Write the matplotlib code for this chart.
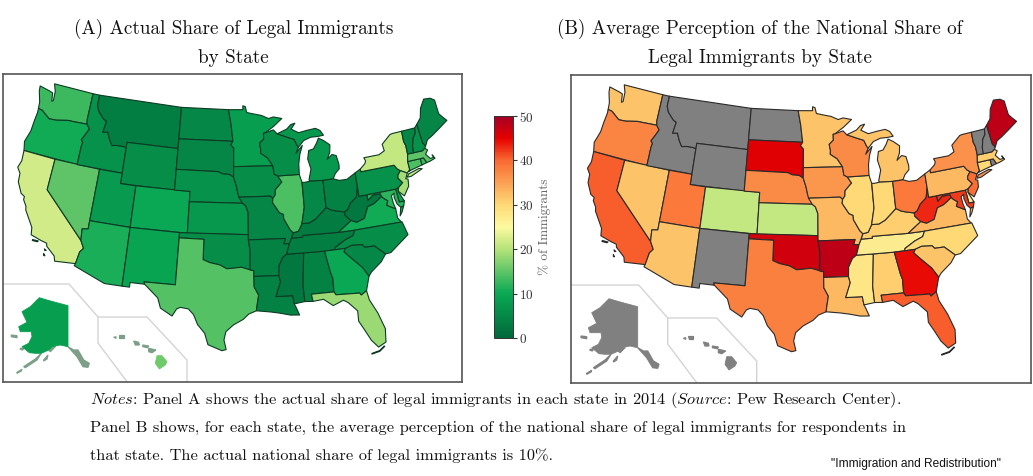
"""Two US choropleths: actual vs perceived share of legal immigrants by state."""

import math

import matplotlib

matplotlib.use("Agg")
import matplotlib.pyplot as plt
import numpy as np
from matplotlib.colors import LinearSegmentedColormap, Normalize
from matplotlib.patches import Polygon

plt.rcParams["font.family"] = ["cmr10"]
plt.rcParams["mathtext.fontset"] = "cm"
plt.rcParams["axes.formatter.use_mathtext"] = True

STATE_CODES = [
    "AL", "AK", "AZ", "AR", "CA", "CO", "CT", "DE", "FL", "GA",
    "HI", "ID", "IL", "IN", "IA", "KS", "KY", "LA", "ME", "MD",
    "MA", "MI", "MN", "MS", "MO", "MT", "NE", "NV", "NH", "NJ",
    "NM", "NY", "NC", "ND", "OH", "OK", "OR", "PA", "RI", "SC",
    "SD", "TN", "TX", "UT", "VT", "VA", "WA", "WV", "WI", "WY",
]
ACTUAL_SHARE = [
    4, 8.5, 11, 4, 22, 10, 14, 9, 18.5, 10,
    16, 6.5, 14, 5, 6, 7.5, 3, 4, 4.5, 12,
    15, 7.5, 8.5, 2.5, 4.5, 3.5, 6.5, 15, 6.5, 19,
    9.5, 21, 6, 5, 4, 6, 10.5, 6.5, 13, 5,
    4.5, 3.5, 14.3, 8, 4.5, 10.5, 13, 2.5, 6, 6,
]
nan = float("nan")
PERCEIVED_SHARE = [
    31, nan, 32, 48, 40.5, 21, 30, 27, 40.5, 44.5,
    nan, nan, 30, 30, 36, 21, 31, 33, 48, 42,
    31, 32, 32, 28, 33, nan, 37, 32, nan, 39.5,
    nan, 36.5, 30, nan, 38.5, 46.5, 37.5, 33, nan, 32,
    45.5, 27, 38, 38.5, nan, 33, 32, 43, 37, nan,
]
COLORBAR_TICKS = [0, 10, 20, 30, 40, 50]

# colormap
CMAP_STOPS = [0, 10, 20, 25, 30, 40, 45, 50]
CMAP_COLORS = ["#00693a", "#0aa854", "#b5e27a", "#fdfaa0",
               "#fed976", "#f96a32", "#e60000", "#a50026"]

# state outlines as (lon, lat)
SHAPES = {
    "WA": [[(-124.7, 48.4), (-123.2, 48.2), (-122.7, 48.1), (-122.5, 47.3), (-122.3, 47.4), (-122.4, 48.3), (-122.8, 49), (-117.03, 49), (-117.04, 46.42), (-116.92, 45.99), (-119, 45.93), (-119.6, 45.92), (-121.2, 45.65), (-122.2, 45.6), (-122.8, 45.9), (-123.4, 46.2), (-124, 46.27), (-124.1, 46.9), (-124.6, 47.9)]],
    "OR": [[(-124, 46.27), (-123.4, 46.2), (-122.8, 45.9), (-122.2, 45.6), (-121.2, 45.65), (-119.6, 45.92), (-119, 45.93), (-116.92, 45.99), (-116.46, 45.6), (-116.85, 44.95), (-117.22, 44.4), (-116.95, 44.2), (-117.03, 43.8), (-117.03, 42), (-124.21, 42), (-124.5, 42.85), (-124.1, 44), (-124.05, 45), (-123.95, 45.9)]],
    "CA": [[(-124.21, 42), (-120, 42), (-120, 39), (-114.63, 35), (-114.14, 34.3), (-114.5, 33.9), (-114.72, 32.72), (-117.12, 32.53), (-117.3, 33), (-118.4, 33.75), (-118.5, 34.03), (-119.2, 34.15), (-120.5, 34.45), (-120.65, 35.15), (-121.9, 36.6), (-122, 36.95), (-122.5, 37.5), (-122.5, 37.8), (-123, 38), (-123.75, 39), (-123.85, 39.8), (-124.35, 40.3), (-124.1, 41)],
           [(-120.2, 34.05), (-119.5, 34.05), (-119.6, 33.95), (-120.2, 33.95)],
           [(-118.6, 33.45), (-118.35, 33.35), (-118.5, 33.3)],
           [(-118.55, 33.0), (-118.35, 32.82), (-118.5, 32.82)]],
    "NV": [[(-120, 42), (-114.04, 42), (-114.04, 36.2), (-114.75, 36.1), (-114.63, 35), (-120, 39)]],
    "ID": [[(-117.03, 49), (-116.05, 49), (-116.05, 48), (-115.7, 47.45), (-114.8, 46.8), (-114.35, 46.65), (-114.55, 45.55), (-113.9, 45.65), (-113.45, 44.95), (-113, 44.45), (-112.3, 44.55), (-111.5, 44.55), (-111.05, 44.48), (-111.05, 42), (-117.03, 42), (-117.03, 43.8), (-116.95, 44.2), (-117.22, 44.4), (-116.85, 44.95), (-116.46, 45.6), (-116.92, 45.99), (-117.04, 46.42)]],
    "MT": [[(-116.05, 49), (-104.05, 49), (-104.05, 45), (-111.05, 45), (-111.05, 44.48), (-111.5, 44.55), (-112.3, 44.55), (-113, 44.45), (-113.45, 44.95), (-113.9, 45.65), (-114.55, 45.55), (-114.35, 46.65), (-114.8, 46.8), (-115.7, 47.45), (-116.05, 48)]],
    "WY": [[(-111.05, 45), (-104.05, 45), (-104.05, 41), (-111.05, 41)]],
    "UT": [[(-114.04, 42), (-111.05, 42), (-111.05, 41), (-109.05, 41), (-109.05, 37), (-114.04, 37)]],
    "CO": [[(-109.05, 41), (-102.05, 41), (-102.05, 37), (-109.05, 37)]],
    "AZ": [[(-114.04, 37), (-109.05, 37), (-109.05, 31.33), (-111.07, 31.33), (-114.81, 32.5), (-114.72, 32.72), (-114.5, 33.9), (-114.14, 34.3), (-114.63, 35), (-114.75, 36.1), (-114.04, 36.2)]],
    "NM": [[(-109.05, 37), (-103, 37), (-103.04, 32), (-106.62, 32), (-106.53, 31.78), (-108.2, 31.78), (-108.2, 31.33), (-109.05, 31.33)]],
    "ND": [[(-104.05, 49), (-97.23, 49), (-96.85, 47.6), (-96.56, 45.94), (-104.05, 45.94)]],
    "SD": [[(-104.05, 45.94), (-96.56, 45.94), (-96.85, 45.6), (-96.45, 45.3), (-96.45, 43.5), (-96.45, 42.49), (-97, 42.75), (-97.9, 42.8), (-98.5, 43), (-104.05, 43)]],
    "NE": [[(-104.05, 43), (-98.5, 43), (-97.9, 42.8), (-97, 42.75), (-96.45, 42.49), (-96.1, 41.7), (-95.9, 41), (-95.3, 40), (-102.05, 40), (-102.05, 41), (-104.05, 41)]],
    "KS": [[(-102.05, 40), (-95.3, 40), (-94.9, 39.75), (-94.6, 39.1), (-94.62, 37), (-102.05, 37)]],
    "OK": [[(-103, 37), (-94.62, 37), (-94.62, 36.5), (-94.43, 35.4), (-94.48, 33.64), (-95.5, 33.9), (-96.5, 33.8), (-97.2, 33.75), (-98, 34.1), (-99.2, 34.3), (-100, 34.56), (-100, 36.5), (-103, 36.5)]],
    "TX": [[(-103, 36.5), (-100, 36.5), (-100, 34.56), (-99.2, 34.3), (-98, 34.1), (-97.2, 33.75), (-96.5, 33.8), (-95.5, 33.9), (-94.48, 33.64), (-94.04, 33.55), (-94.04, 33), (-94.04, 32), (-93.55, 31.2), (-93.7, 30.5), (-93.85, 29.7), (-94.7, 29.4), (-95.3, 28.9), (-96.4, 28.35), (-97.2, 27.7), (-97.4, 26.9), (-97.15, 25.96), (-97.6, 25.85), (-99.1, 26.4), (-99.5, 27.5), (-100.3, 28.3), (-100.8, 29.25), (-101.4, 29.77), (-102.3, 29.87), (-102.7, 29.7), (-103.15, 28.98), (-104.5, 29.65), (-104.9, 30.6), (-106.53, 31.78), (-106.62, 32), (-103.04, 32)]],
    "MN": [[(-97.23, 49), (-95.15, 49), (-95.15, 49.38), (-94.8, 49.3), (-94.6, 48.72), (-93.5, 48.55), (-92.5, 48.4), (-91.5, 48.07), (-90.8, 48.2), (-89.6, 48), (-90.8, 47.3), (-92.05, 46.7), (-92.3, 46.66), (-92.3, 46.1), (-92.9, 45.7), (-92.75, 45.1), (-92.8, 44.75), (-91.9, 44.3), (-91.22, 43.5), (-96.45, 43.5), (-96.45, 45.3), (-96.85, 45.6), (-96.56, 45.94), (-96.85, 47.6)]],
    "IA": [[(-96.45, 43.5), (-91.22, 43.5), (-91.1, 42.7), (-90.65, 42.5), (-90.15, 41.9), (-91.05, 41.2), (-91.1, 40.7), (-91.42, 40.38), (-91.73, 40.61), (-95.77, 40.58), (-95.9, 41), (-96.1, 41.7), (-96.45, 42.49)]],
    "MO": [[(-95.77, 40.58), (-91.73, 40.61), (-91.42, 40.38), (-91.5, 40), (-90.7, 39), (-90.2, 38.8), (-90.2, 38.4), (-89.5, 37.3), (-89.15, 37), (-89.4, 36.5), (-89.7, 36), (-90.37, 36), (-90.15, 36.5), (-94.62, 36.5), (-94.62, 37), (-94.6, 39.1), (-94.9, 39.75), (-95.3, 40)]],
    "AR": [[(-94.62, 36.5), (-90.15, 36.5), (-90.37, 36), (-89.7, 36), (-90.1, 35), (-90.6, 34.7), (-91.1, 33.9), (-91.17, 33), (-94.04, 33), (-94.04, 33.55), (-94.48, 33.64), (-94.43, 35.4)]],
    "LA": [[(-94.04, 33), (-91.17, 33), (-91, 32.4), (-91.6, 31), (-89.73, 31), (-89.6, 30.2), (-89.4, 29.8), (-89.1, 29.1), (-90.1, 29.15), (-91.3, 29.4), (-92.3, 29.55), (-93.85, 29.7), (-93.7, 30.5), (-93.55, 31.2), (-94.04, 32)]],
    "MS": [[(-91.17, 33), (-91.1, 33.9), (-90.6, 34.7), (-90.1, 35), (-88.2, 35), (-88.1, 34.9), (-88.47, 31.9), (-88.4, 30.35), (-89.6, 30.2), (-89.73, 31), (-91.6, 31), (-91, 32.4)]],
    "AL": [[(-88.2, 35), (-85.6, 34.98), (-85.18, 32.87), (-85, 32.3), (-85.05, 31), (-87.6, 31), (-87.5, 30.3), (-88.4, 30.35), (-88.47, 31.9), (-88.1, 34.9)]],
    "TN": [[(-90.1, 35), (-89.7, 36), (-89.4, 36.5), (-88.05, 36.5), (-88.05, 36.68), (-83.68, 36.6), (-81.68, 36.59), (-82, 36.1), (-83, 35.8), (-84.3, 35.2), (-84.32, 34.99), (-85.6, 34.98), (-88.2, 35)]],
    "KY": [[(-89.4, 36.5), (-89.15, 37), (-88.5, 37.1), (-88, 37.8), (-87.1, 37.8), (-86.3, 38.1), (-85.4, 38.7), (-84.8, 39.1), (-84.2, 38.8), (-83.6, 38.65), (-82.6, 38.45), (-82.6, 38.15), (-81.97, 37.54), (-83.68, 36.6), (-88.05, 36.68), (-88.05, 36.5)]],
    "IL": [[(-91.42, 40.38), (-91.1, 40.7), (-91.05, 41.2), (-90.15, 41.9), (-90.65, 42.5), (-87.8, 42.5), (-87.55, 41.75), (-87.53, 39.35), (-88, 37.8), (-88.5, 37.1), (-89.15, 37), (-89.5, 37.3), (-90.2, 38.4), (-90.2, 38.8), (-90.7, 39), (-91.5, 40)]],
    "WI": [[(-92.05, 46.7), (-90.9, 46.95), (-90.4, 46.55), (-89, 46.15), (-88.1, 45.9), (-87.8, 45.35), (-87.6, 45.1), (-88, 44.55), (-87.05, 45.25), (-87.5, 44.4), (-87.75, 43.5), (-87.8, 42.5), (-90.65, 42.5), (-91.1, 42.7), (-91.22, 43.5), (-91.9, 44.3), (-92.8, 44.75), (-92.75, 45.1), (-92.9, 45.7), (-92.3, 46.1), (-92.3, 46.66)]],
    "MI": [[(-86.5, 41.76), (-84.8, 41.7), (-83.45, 41.73), (-83.1, 42.2), (-82.5, 42.6), (-82.45, 43), (-82.65, 43.9), (-83.2, 44.05), (-83.9, 43.65), (-83.45, 44.3), (-83.3, 45), (-84.1, 45.5), (-84.75, 45.78), (-85.1, 45.3), (-85.6, 44.8), (-86.25, 44.7), (-86.5, 43.9), (-86.2, 42.9), (-86.6, 41.9)],
           [(-90.4, 46.55), (-89, 46.95), (-88.4, 47.35), (-87.8, 47.45), (-88.4, 46.9), (-87.4, 46.5), (-86.2, 46.65), (-85, 46.75), (-84.4, 46.5), (-84, 46), (-84.75, 45.95), (-85.8, 45.95), (-86.8, 45.7), (-87.6, 45.1), (-87.8, 45.35), (-88.1, 45.9), (-89, 46.15)]],
    "IN": [[(-87.53, 41.72), (-87.2, 41.7), (-86.5, 41.76), (-84.8, 41.7), (-84.82, 39.1), (-85.4, 38.7), (-86.3, 38.1), (-87.1, 37.8), (-88, 37.8), (-87.53, 39.35)]],
    "OH": [[(-84.8, 41.7), (-83.45, 41.73), (-82.7, 41.5), (-81.7, 41.5), (-80.52, 41.98), (-80.52, 40.64), (-80.85, 39.7), (-81.7, 39.2), (-82.2, 38.6), (-82.6, 38.45), (-83.6, 38.65), (-84.2, 38.8), (-84.82, 39.1)]],
    "WV": [[(-80.52, 40.64), (-80.52, 39.72), (-79.48, 39.72), (-79.48, 39.2), (-78.8, 39.6), (-78.4, 39.6), (-77.83, 39.6), (-77.72, 39.32), (-78.35, 39), (-78.87, 38.76), (-79.65, 38.6), (-80.3, 37.55), (-81.3, 37.3), (-81.97, 37.54), (-82.6, 38.15), (-82.6, 38.45), (-82.2, 38.6), (-81.7, 39.2), (-80.85, 39.7)]],
    "VA": [[(-83.68, 36.6), (-81.97, 37.54), (-81.3, 37.3), (-80.3, 37.55), (-79.65, 38.6), (-78.87, 38.76), (-78.35, 39), (-77.72, 39.32), (-77.5, 39.1), (-77.05, 38.8), (-77.3, 38.4), (-76.3, 37.9), (-76.3, 37), (-75.95, 36.55), (-81.68, 36.59)],
           [(-75.95, 37.15), (-75.65, 37.95), (-75.25, 38.03), (-75.6, 37.5)]],
    "NC": [[(-84.32, 34.99), (-84.3, 35.2), (-83, 35.8), (-82, 36.1), (-81.68, 36.59), (-75.87, 36.55), (-75.5, 35.25), (-76.5, 34.7), (-77.9, 33.9), (-78.55, 33.86), (-79.67, 34.8), (-80.8, 34.82), (-81.05, 35.1), (-82.3, 35.2), (-83.1, 35)]],
    "SC": [[(-83.1, 35), (-82.3, 35.2), (-81.05, 35.1), (-80.8, 34.82), (-79.67, 34.8), (-78.55, 33.86), (-79.2, 33.2), (-80.5, 32.4), (-80.87, 32.03), (-81.5, 33), (-82.6, 34), (-83.35, 34.7)]],
    "GA": [[(-85.6, 34.98), (-84.32, 34.99), (-83.1, 35), (-83.35, 34.7), (-82.6, 34), (-81.5, 33), (-80.87, 32.03), (-81.4, 30.7), (-82.05, 30.36), (-82.2, 30.57), (-84.86, 30.7), (-85.05, 31), (-85, 32.3), (-85.18, 32.87)]],
    "FL": [[(-87.6, 31), (-85.05, 31), (-84.86, 30.7), (-82.2, 30.57), (-82.05, 30.36), (-81.4, 30.7), (-81.25, 29.8), (-80.55, 28.4), (-80.03, 26.8), (-80.2, 25.5), (-81.05, 25.13), (-81.7, 25.9), (-82.2, 26.9), (-82.75, 27.9), (-82.7, 28.9), (-83.6, 29.8), (-84.1, 30.1), (-85.3, 29.7), (-86.3, 30.4), (-87.5, 30.3)],
           [(-81.85, 24.55), (-81.0, 24.7), (-80.4, 25.1), (-80.45, 25.15), (-81.0, 24.78), (-81.85, 24.62)]],
    "PA": [[(-80.52, 41.98), (-79.76, 42.27), (-79.76, 42), (-75.35, 42), (-75.05, 41.6), (-74.7, 41.36), (-75.13, 40.98), (-75.2, 40.7), (-74.75, 40.2), (-75.42, 39.8), (-75.79, 39.72), (-80.52, 39.72), (-80.52, 40.64)]],
    "NY": [[(-79.76, 42.27), (-79.05, 42.7), (-78.9, 42.95), (-79.05, 43.27), (-77, 43.28), (-76.2, 43.55), (-76.3, 44.2), (-75, 44.95), (-74.7, 45), (-73.34, 45.01), (-73.4, 44), (-73.25, 43.6), (-73.28, 42.75), (-73.5, 42.05), (-73.49, 41.21), (-73.73, 41.1), (-73.9, 40.99), (-74.7, 41.36), (-75.05, 41.6), (-75.35, 42), (-79.76, 42)],
           [(-74.03, 40.6), (-73.75, 40.88), (-72.3, 41.15), (-71.9, 41.05), (-73.5, 40.6)]],
    "NJ": [[(-74.7, 41.36), (-73.9, 40.99), (-74.25, 40.5), (-73.98, 40.4), (-74.1, 39.75), (-74.9, 38.93), (-75.55, 39.5), (-75.42, 39.8), (-74.75, 40.2), (-75.2, 40.7), (-75.13, 40.98)]],
    "DE": [[(-75.79, 39.72), (-75.42, 39.8), (-75.55, 39.5), (-75.05, 38.45), (-75.7, 38.46)]],
    "MD": [[(-79.48, 39.72), (-75.79, 39.72), (-75.7, 38.46), (-75.05, 38.45), (-75.25, 38.03), (-75.65, 37.95), (-76, 38.3), (-76.2, 39), (-76.1, 39.4), (-76.5, 39.2), (-76.45, 38.5), (-76.3, 37.9), (-77.3, 38.4), (-77.05, 38.8), (-77.5, 39.1), (-77.72, 39.32), (-77.83, 39.6), (-78.4, 39.6), (-78.8, 39.6), (-79.48, 39.2)]],
    "CT": [[(-73.73, 41.1), (-73.49, 41.21), (-73.5, 42.05), (-71.8, 42.02), (-71.8, 41.4), (-73, 41.23)]],
    "RI": [[(-71.8, 42.02), (-71.38, 42.02), (-71.12, 41.5), (-71.8, 41.4)]],
    "MA": [[(-73.5, 42.05), (-73.28, 42.75), (-72.46, 42.73), (-71.3, 42.7), (-70.9, 42.88), (-70.6, 42.65), (-71, 42.3), (-70.55, 41.8), (-70.05, 41.8), (-70.2, 42.08), (-69.95, 41.7), (-70.65, 41.55), (-71.12, 41.5), (-71.38, 42.02), (-71.8, 42.02)]],
    "VT": [[(-73.34, 45.01), (-71.5, 45.01), (-71.6, 44.5), (-72.05, 44.1), (-72.4, 43.3), (-72.46, 42.73), (-73.28, 42.75), (-73.25, 43.6), (-73.4, 44)]],
    "NH": [[(-71.5, 45.01), (-71.08, 45.3), (-70.98, 43.4), (-70.7, 43.07), (-70.9, 42.88), (-71.3, 42.7), (-72.46, 42.73), (-72.4, 43.3), (-72.05, 44.1), (-71.6, 44.5)]],
    "ME": [[(-71.08, 45.3), (-70.4, 45.8), (-70, 46.7), (-69.23, 47.46), (-68.3, 47.36), (-67.8, 47.07), (-67.8, 45.7), (-67.45, 45.3), (-67, 44.85), (-68.5, 44.25), (-69.5, 43.85), (-70.25, 43.6), (-70.7, 43.07), (-70.98, 43.4)]],
}
# insets traced straight in map pixels
ALASKA = [(39.3, 297.7), (47, 300), (55.3, 302.3), (68, 305.7), (68, 346.7), (60.3, 345), (52, 346.7), (48.7, 350), (41.3, 353.3), (35.3, 353.3), (29.3, 352.7), (22, 346.7), (28.7, 343.3), (32, 336.7), (31.3, 331.7), (20.3, 331.7), (18.7, 326.7), (27, 322.3), (22, 311.7), (30.3, 306.7)]
ALASKA_FRINGE = [
    [(68, 346.7), (73.7, 350), (78, 350), (83.7, 360), (89.3, 363.3), (88, 367.3), (83, 366.7), (77, 356.7)],
    [(41.3, 353.3), (37, 360), (25.3, 367.7), (23.7, 366.7), (35.3, 359)],
    [(17, 372.3), (22, 369.3), (21.3, 371), (17, 373.3)],
    [(43.7, 360), (48, 355), (47, 359), (43.7, 361)],
    [(48.7, 350), (53.7, 345), (55.3, 346.7), (50.3, 351.7)],
    [(11.3, 335), (17, 335.7), (17, 337.7), (11.3, 336.7)],
    [(20.3, 348.3), (23.7, 348.3), (22.7, 350), (20.3, 349.3)],
]
HAWAII_BIG = [(157, 355.7), (162, 355.7), (167, 361.7), (165.3, 365), (159.3, 369), (155.3, 363.3)]
HAWAII_SMALL = [
    [(148.7, 348.3), (156, 350), (152, 352.7), (148.7, 351.7)],
    [(142.7, 345), (148.7, 346), (147.7, 347.7), (142.7, 346.7)],
    [(133.7, 341), (138.7, 342.3), (139.3, 345), (135.3, 345)],
    [(118.7, 335), (123.7, 335), (123.7, 338.3), (119.3, 338.3)],
    [(113.7, 337.3), (116, 336.7), (116, 338.3)],
]
# inset separator polylines, in map pixels
INSET_LINES = [
    [(0, 284), (69, 284), (98, 317), (147, 317), (187, 360), (187, 383)],
    [(98, 317), (98, 343), (128, 383)],
]

MAP_SCALE = 595.0
MAP_X0, MAP_Y0 = 237.0, 229.5
FRAME_A = (2.7, 461.7, 74.0, 382.0)
FRAME_B = (571.0, 1030.5, 74.5, 383.0)
SHIFT_B = (569.7, 1.0)
FIG_W, FIG_H = 1033, 476

NOTE_LINES = [
    r"$\mathit{Notes}$: Panel A shows the actual share of legal immigrants in each state in 2014 ($\mathit{Source}$: Pew Research Center).",
    "Panel B shows, for each state, the average perception of the national share of legal immigrants for respondents in",
    "that state. The actual national share of legal immigrants is 10%.",
]


def _albers(lon, lat, lon0=-96.0, lat0=37.5, lat1=29.5, lat2=45.5):
    """Albers equal-area conic, returned in unit-sphere coordinates."""
    s1, s2 = math.sin(math.radians(lat1)), math.sin(math.radians(lat2))
    n = (s1 + s2) / 2
    c = math.cos(math.radians(lat1)) ** 2 + 2 * n * s1
    rho = math.sqrt(c - 2 * n * math.sin(math.radians(lat))) / n
    rho0 = math.sqrt(c - 2 * n * math.sin(math.radians(lat0))) / n
    theta = math.radians(n * (lon - lon0))
    return rho * math.sin(theta), rho0 - rho * math.cos(theta)


def _lower48(points):
    out = []
    for lon, lat in points:
        x, y = _albers(lon, lat)
        out.append((MAP_X0 + MAP_SCALE * x, MAP_Y0 - MAP_SCALE * y))
    return out


def _draw_panel(ax, values, cmap, norm, edge, fringe_color):
    lookup = dict(zip(STATE_CODES, values))

    def face(code):
        val = lookup[code]
        return "#808080" if np.isnan(val) else cmap(norm(val))

    for code, parts in SHAPES.items():
        for part in parts:
            ax.add_patch(Polygon(_lower48(part), closed=True, facecolor=face(code),
                                 edgecolor=edge, linewidth=0.8, joinstyle="round"))
    # insets have no dark outline, only a thin edge in their own fill
    for part in ALASKA_FRINGE + HAWAII_SMALL:
        ax.add_patch(Polygon(part, closed=True, facecolor=fringe_color,
                             edgecolor=fringe_color, linewidth=0.9))
    ax.add_patch(Polygon(ALASKA, closed=True, facecolor=face("AK"), edgecolor=face("AK"), linewidth=0.6))
    ax.add_patch(Polygon(HAWAII_BIG, closed=True, facecolor=face("HI"), edgecolor=face("HI"), linewidth=0.6))
    for line in INSET_LINES:
        xs, ys = zip(*line)
        ax.plot(xs, ys, color="#d4d4d4", linewidth=1.0, zorder=0)


def _add_axes(fig, frame):
    left, right, top, bottom = frame
    ax = fig.add_axes([left / FIG_W, 1 - bottom / FIG_H,
                       (right - left) / FIG_W, (bottom - top) / FIG_H])
    ax.set_xticks([])
    ax.set_yticks([])
    for spine in ax.spines.values():
        spine.set_color("#555555")
        spine.set_linewidth(1.2)
    return ax


def main():
    cmap = LinearSegmentedColormap.from_list(
        "immig", [(s / 50, c) for s, c in zip(CMAP_STOPS, CMAP_COLORS)], N=256)
    norm = Normalize(0, 50)

    fig = plt.figure(figsize=(FIG_W / 100, FIG_H / 100), dpi=100)

    ax_a = _add_axes(fig, FRAME_A)
    _draw_panel(ax_a, ACTUAL_SHARE, cmap, norm, "#0e3a24", "#7d9f88")
    ax_a.set_xlim(FRAME_A[0], FRAME_A[1])
    ax_a.set_ylim(FRAME_A[3], FRAME_A[2])

    ax_b = _add_axes(fig, FRAME_B)
    _draw_panel(ax_b, PERCEIVED_SHARE, cmap, norm, "#2a2a2a", "#808080")
    ax_b.set_xlim(FRAME_B[0] - SHIFT_B[0], FRAME_B[1] - SHIFT_B[0])
    ax_b.set_ylim(FRAME_B[3] - SHIFT_B[1], FRAME_B[2] - SHIFT_B[1])

    # colour bar
    cax = fig.add_axes([494 / FIG_W, 1 - 338 / FIG_H, 18.5 / FIG_W, 222 / FIG_H])
    sm = plt.cm.ScalarMappable(norm=norm, cmap=cmap)
    cbar = fig.colorbar(sm, cax=cax, ticks=COLORBAR_TICKS)
    cbar.ax.tick_params(labelsize=9.5, length=3, width=0.8, colors="#333333", pad=2)
    cbar.outline.set_edgecolor("#333333")
    cbar.outline.set_linewidth(0.7)
    fig.text(545 / FIG_W, 1 - 227 / FIG_H, "% of Immigrants", rotation=90, color="#666666",
             fontsize=9.5, ha="center", va="center")

    title_kw = dict(ha="center", va="center", fontsize=13.75, color="#111111")
    fig.text(233.5 / FIG_W, 1 - 29 / FIG_H, "(A) Actual Share of Legal Immigrants", **title_kw)
    fig.text(233.5 / FIG_W, 1 - 58 / FIG_H, "by State", **title_kw)
    fig.text(759.5 / FIG_W, 1 - 29 / FIG_H, "(B) Average Perception of the National Share of", **title_kw)
    fig.text(759.5 / FIG_W, 1 - 58 / FIG_H, "Legal Immigrants by State", **title_kw)

    for line, y in zip(NOTE_LINES, [400, 428, 456]):
        fig.text(90 / FIG_W, 1 - y / FIG_H, line, ha="left", va="center", fontsize=11.8, color="#111111")
    fig.text(916 / FIG_W, 1 - 464 / FIG_H, '"Immigration and Redistribution"', ha="center", va="center",
             family=["Liberation Sans"], fontsize=8.6, color="#111111")

    fig.savefig("out.png", dpi=100)


if __name__ == "__main__":
    main()
